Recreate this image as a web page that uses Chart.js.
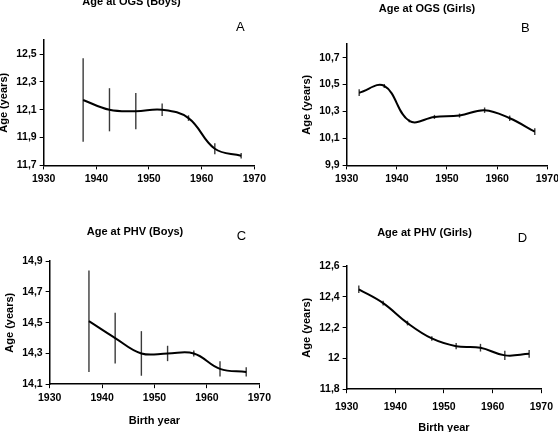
<!DOCTYPE html>
<html>
<head>
<meta charset="utf-8">
<script src="https://cdn.jsdelivr.net/npm/chart.js@4.4.1/dist/chart.umd.min.js"></script>
<style>
  html, body { margin: 0; padding: 0; background: #fff; }
  body { width: 558px; height: 432px; position: relative; overflow: hidden; }
  .panel { position: absolute; }
</style>
</head>
<body>
<div class="panel" id="pA"><canvas id="chartA"></canvas></div>
<div class="panel" id="pB"><canvas id="chartB"></canvas></div>
<div class="panel" id="pC"><canvas id="chartC"></canvas></div>
<div class="panel" id="pD"><canvas id="chartD"></canvas></div>
<script>
// birth year cohorts (mid points)
var yearsA = [1937.5, 1942.5, 1947.5, 1952.5, 1957.5, 1962.5, 1967.5];
var ageA = [12.17, 12.10, 12.09, 12.10, 12.04, 11.82, 11.77];
var errA = [0.30, 0.155, 0.13, 0.045, 0.02, 0.04, 0.02];

var yearsB = [1932.5, 1937.5, 1942.5, 1947.5, 1952.5, 1957.5, 1962.5, 1967.5];
var ageB = [10.44, 10.49, 10.23, 10.26, 10.27, 10.31, 10.25, 10.15];
var errB = [0.025, 0.015, 0.01, 0.015, 0.015, 0.02, 0.02, 0.025];

var yearsC = [1937.5, 1942.5, 1947.5, 1952.5, 1957.5, 1962.5, 1967.5];
var ageC = [14.51, 14.40, 14.30, 14.30, 14.30, 14.20, 14.18];
var errC = [0.33, 0.165, 0.145, 0.05, 0.02, 0.05, 0.03];

var yearsD = [1932.5, 1937.5, 1942.5, 1947.5, 1952.5, 1957.5, 1962.5, 1967.5];
var ageD = [12.45, 12.36, 12.23, 12.13, 12.08, 12.07, 12.02, 12.03];
var errD = [0.025, 0.015, 0.015, 0.015, 0.02, 0.025, 0.03, 0.025];

var xTicks = [1930, 1940, 1950, 1960, 1970];
var yTicksA = [11.7, 11.9, 12.1, 12.3, 12.5];
var yTicksB = [9.9, 10.1, 10.3, 10.5, 10.7];
var yTicksC = [14.1, 14.3, 14.5, 14.7, 14.9];
var yTicksD = [11.8, 12, 12.2, 12.4, 12.6];

var yRangeA = [11.7, 12.6];
var yRangeB = [9.9, 10.8];
var yRangeC = [14.1, 14.9];
var yRangeD = [11.8, 12.6];

var FONT = "'Liberation Sans', Arial, sans-serif";

var errorBars = {
    id: 'errorBars',
    beforeDatasetsDraw: function (chart) {
        var ds = chart.data.datasets[0];
        var xs = chart.scales.x, ys = chart.scales.y;
        var ctx = chart.ctx;
        ctx.save();
        ctx.strokeStyle = '#3a3a3a';
        ctx.lineWidth = 1.4;
        ds.data.forEach(function (p, i) {
            var e = ds.errors[i];
            var px = xs.getPixelForValue(p.x);
            ctx.beginPath();
            ctx.moveTo(px, ys.getPixelForValue(p.y - e));
            ctx.lineTo(px, ys.getPixelForValue(p.y + e));
            ctx.stroke();
        });
        ctx.restore();
    }
};

var panelLetter = {
    id: 'panelLetter',
    afterDraw: function (chart, args, opts) {
        var ctx = chart.ctx;
        ctx.save();
        ctx.font = '13px ' + FONT;
        ctx.fillStyle = '#000';
        ctx.textAlign = 'center';
        ctx.textBaseline = 'middle';
        ctx.fillText(opts.text, chart.chartArea.right + opts.dx, chart.chartArea.top + opts.dy);
        ctx.restore();
    }
};

function fmt(v) {
    return (Math.round(v * 10) / 10).toString().replace('.', ',');
}

function makePanel(p) {
    var box = document.getElementById(p.box);
    box.style.left = p.left + 'px';
    box.style.top = p.top + 'px';
    var cv = document.getElementById(p.canvas);
    cv.width = p.width;
    cv.height = p.height;

    var pts = p.years.map(function (y, i) { return { x: y, y: p.ages[i] }; });

    return new Chart(cv.getContext('2d'), {
        type: 'line',
        data: {
            datasets: [{
                data: pts,
                errors: p.errors,
                borderColor: '#000',
                borderWidth: 2,
                pointRadius: 0,
                tension: 0.4,
                fill: false
            }]
        },
        options: {
            responsive: false,
            animation: false,
            layout: { padding: p.pad },
            plugins: {
                legend: { display: false },
                tooltip: { enabled: false },
                title: {
                    display: true,
                    text: p.title,
                    color: '#000',
                    font: { family: FONT, size: 11, weight: 'bold' },
                    padding: p.titlePad
                },
                panelLetter: { text: p.letter, dx: p.letterPos[0], dy: p.letterPos[1] }
            },
            scales: {
                x: {
                    type: 'linear',
                    min: 1930,
                    max: 1970,
                    afterBuildTicks: function (axis) {
                        axis.ticks = xTicks.map(function (v) { return { value: v }; });
                    },
                    ticks: {
                        color: '#000',
                        padding: p.xTickPad,
                        maxRotation: 0,
                        font: { family: FONT, size: 10.5, weight: 'bold' },
                        callback: function (v) { return v; }
                    },
                    grid: { drawOnChartArea: false, drawTicks: true, tickLength: 4, color: '#000', lineWidth: 1 },
                    border: { display: true, color: '#000', width: 1.5 },
                    title: {
                        display: !!p.xTitle,
                        text: p.xTitle || '',
                        color: '#000',
                        font: { family: FONT, size: 11, weight: 'bold' },
                        padding: p.xTitlePad || 0
                    }
                },
                y: {
                    min: p.yRange[0],
                    max: p.yRange[1],
                    afterBuildTicks: function (axis) {
                        axis.ticks = p.yTicks.map(function (v) { return { value: v }; });
                    },
                    ticks: {
                        color: '#000',
                        padding: 3,
                        font: { family: FONT, size: 10.5, weight: 'bold' },
                        callback: function (v) { return fmt(v); }
                    },
                    grid: { drawOnChartArea: false, drawTicks: true, tickLength: 4, color: '#000', lineWidth: 1 },
                    border: { display: true, color: '#000', width: 1.5 },
                    title: {
                        display: true,
                        text: 'Age (years)',
                        color: '#000',
                        font: { family: FONT, size: 11, weight: 'bold' },
                        padding: { top: p.yTitleOut, bottom: 3 }
                    }
                }
            }
        },
        plugins: [errorBars, panelLetter]
    });
}

makePanel({
    box: 'pA', canvas: 'chartA', left: -6, top: -5, width: 275, height: 195,
    years: yearsA, ages: ageA, errors: errA, yTicks: yTicksA, yRange: yRangeA,
    title: 'Age at OGS (Boys)', titlePad: { top: 0, bottom: 32 },
    letter: 'A', letterPos: [-14, -13], yTitleOut: 3,
    pad: { left: 0, right: 0, top: 0, bottom: 2 }, xTickPad: 3
});

makePanel({
    box: 'pB', canvas: 'chartB', left: 292, top: 0, width: 270, height: 190,
    years: yearsB, ages: ageB, errors: errB, yTicks: yTicksB, yRange: yRangeB,
    title: 'Age at OGS (Girls)', titlePad: { top: 2, bottom: 29 },
    letter: 'B', letterPos: [-22, -16], yTitleOut: 8,
    pad: { left: 0, right: 0, top: 0, bottom: 2 }, xTickPad: 3
});

makePanel({
    box: 'pC', canvas: 'chartC', left: -5, top: 216, width: 280, height: 216,
    years: yearsC, ages: ageC, errors: errC, yTicks: yTicksC, yRange: yRangeC,
    title: 'Age at PHV (Boys)', titlePad: { top: 9, bottom: 23 },
    letter: 'C', letterPos: [-18, -25], yTitleOut: 8,
    pad: { left: 0, right: 0, top: 0, bottom: 2 }, xTickPad: 4,
    xTitle: 'Birth year', xTitlePad: { top: 6, bottom: 2 }
});

makePanel({
    box: 'pD', canvas: 'chartD', left: 288, top: 216, width: 273, height: 223,
    years: yearsD, ages: ageD, errors: errD, yTicks: yTicksD, yRange: yRangeD,
    title: 'Age at PHV (Girls)', titlePad: { top: 10, bottom: 27 },
    letter: 'D', letterPos: [-19, -28], yTitleOut: 12,
    pad: { left: 0, right: 0, top: 0, bottom: 2 }, xTickPad: 8,
    xTitle: 'Birth year', xTitlePad: { top: 0, bottom: 2 }
});
</script>
</body>
</html>
